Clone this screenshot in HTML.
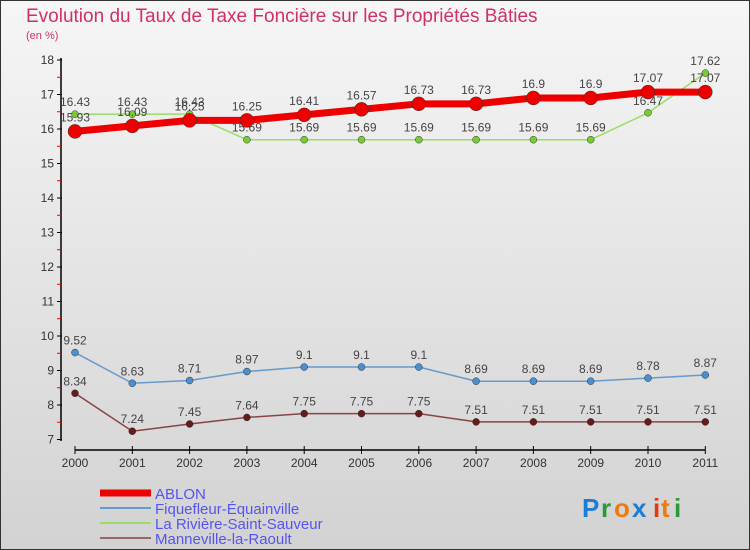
<!DOCTYPE html>
<html><head><meta charset="utf-8"><style>
body{margin:0;width:750px;height:550px;overflow:hidden;font-family:"Liberation Sans",sans-serif}
svg{display:block}
</style></head><body>
<svg width="750" height="550" xmlns="http://www.w3.org/2000/svg">
<defs><linearGradient id="bg" x1="0" y1="0" x2="0" y2="1"><stop offset="0" stop-color="#f6f6f6"/><stop offset="1" stop-color="#d2d2d2"/></linearGradient></defs>
<rect x="0.5" y="0.5" width="749" height="549" fill="url(#bg)" stroke="#333"/>
<text x="26" y="22" font-size="19" fill="#d0306a">Evolution du Taux de Taxe Foncière sur les Propriétés Bâties</text>
<text x="26" y="39" font-size="11" fill="#d0306a">(en %)</text>
<g id="axes"></g><g id="series"></g><g id="legend"></g>
<g font-size="26" font-weight="bold">
<text x="582" y="517" fill="#1a7ed6">P</text><text x="601" y="517" fill="#2a9a3a">r</text><text x="614" y="517" fill="#f07a10">o</text><text x="632" y="517" fill="#1a7ed6">x</text><text x="653" y="517" fill="#e03a10">i</text><text x="661" y="517" fill="#f07a10">t</text><text x="674" y="517" fill="#2a9a3a">i</text>
</g>
</svg>
<script>
const years=["2000","2001","2002","2003","2004","2005","2006","2007","2008","2009","2010","2011"];
const yTicks=[7,8,9,10,11,12,13,14,15,16,17,18];
const ablon=[15.93,16.09,16.25,16.25,16.41,16.57,16.73,16.73,16.9,16.9,17.07,17.07];
const fique=[9.52,8.63,8.71,8.97,9.1,9.1,9.1,8.69,8.69,8.69,8.78,8.87];
const riviere=[16.43,16.43,16.43,15.69,15.69,15.69,15.69,15.69,15.69,15.69,16.47,17.62];
const manne=[8.34,7.24,7.45,7.64,7.75,7.75,7.75,7.51,7.51,7.51,7.51,7.51];
const NS="http://www.w3.org/2000/svg";
const X=i=>75+i*57.3, Y=v=>60+(18-v)*34.5;
function mk(p,t,a){const e=document.createElementNS(NS,t);for(const k in a)e.setAttribute(k,a[k]);p.appendChild(e);return e;}
const ax=document.getElementById('axes');
let l=mk(ax,'line',{x1:61,y1:58,x2:61,y2:441,stroke:'#000','stroke-width':1.5});


yTicks.forEach(v=>{
 mk(ax,'line',{x1:57,x2:62,y1:Y(v),y2:Y(v),stroke:'#000'});
 if(v<18) mk(ax,'line',{x1:57,x2:61,y1:Y(v+0.5),y2:Y(v+0.5),stroke:'#e00'});
 const t=mk(ax,'text',{x:54,y:Y(v)+4,'text-anchor':'end','font-size':12,fill:'#333'});t.textContent=v;
 
 
});
l=mk(ax,'line',{x1:X(0),y1:450,x2:X(11),y2:450,stroke:'#000','stroke-width':1.5});


years.forEach((y,i)=>{
 mk(ax,'line',{x1:X(i),x2:X(i),y1:446,y2:454,stroke:'#000'});
 const t=mk(ax,'text',{x:X(i),y:467,'text-anchor':'middle','font-size':12,fill:'#333'});t.textContent=y;
 
 
});
const sg=document.getElementById('series');
function series(data,color,dot,w,r,name,off){
 const g=mk(sg,'g',{});
 
 
 mk(g,'polyline',{points:data.map((v,i)=>X(i)+','+Y(v)).join(' '),fill:'none',stroke:color,'stroke-width':w});
 data.forEach((v,i)=>{
  const c=mk(g,'circle',{cx:X(i),cy:Y(v),r:r,fill:dot,stroke:'#333','stroke-width':0.5});
  
  
  const t=mk(g,'text',{x:X(i),y:Y(v)+off,'text-anchor':'middle','font-size':12,fill:'#444'});t.textContent=v;
  
  
 });
}
series(riviere,'#99dd66','#77cc33',1.5,3.5,'series-la-riviere',-8);
series(fique,'#6699cc','#4a90d0',1.5,3.5,'series-fiquefleur',-8);
series(manne,'#884444','#661a1a',1.5,3.5,'series-manneville',-8);
series(ablon,'#ee0000','#ee0000',7,7,'series-ablon',-10);
const lg=document.getElementById('legend');
const L=[["ABLON","#ee0000",7],["Fiquefleur-Équainville","#6699cc",2],["La Rivière-Saint-Sauveur","#99dd66",2],["Manneville-la-Raoult","#996666",2]];
L.forEach((e,i)=>{
 const g=mk(lg,'g',{});
 
 
 const y=493+i*15;
 mk(g,'line',{x1:100,x2:151,y1:y,y2:y,stroke:e[1],'stroke-width':e[2]});
 const t=mk(g,'text',{x:155,y:y+6,'font-size':15,fill:'#5555ee'});t.textContent=e[0];
});
</script>
</body></html>
